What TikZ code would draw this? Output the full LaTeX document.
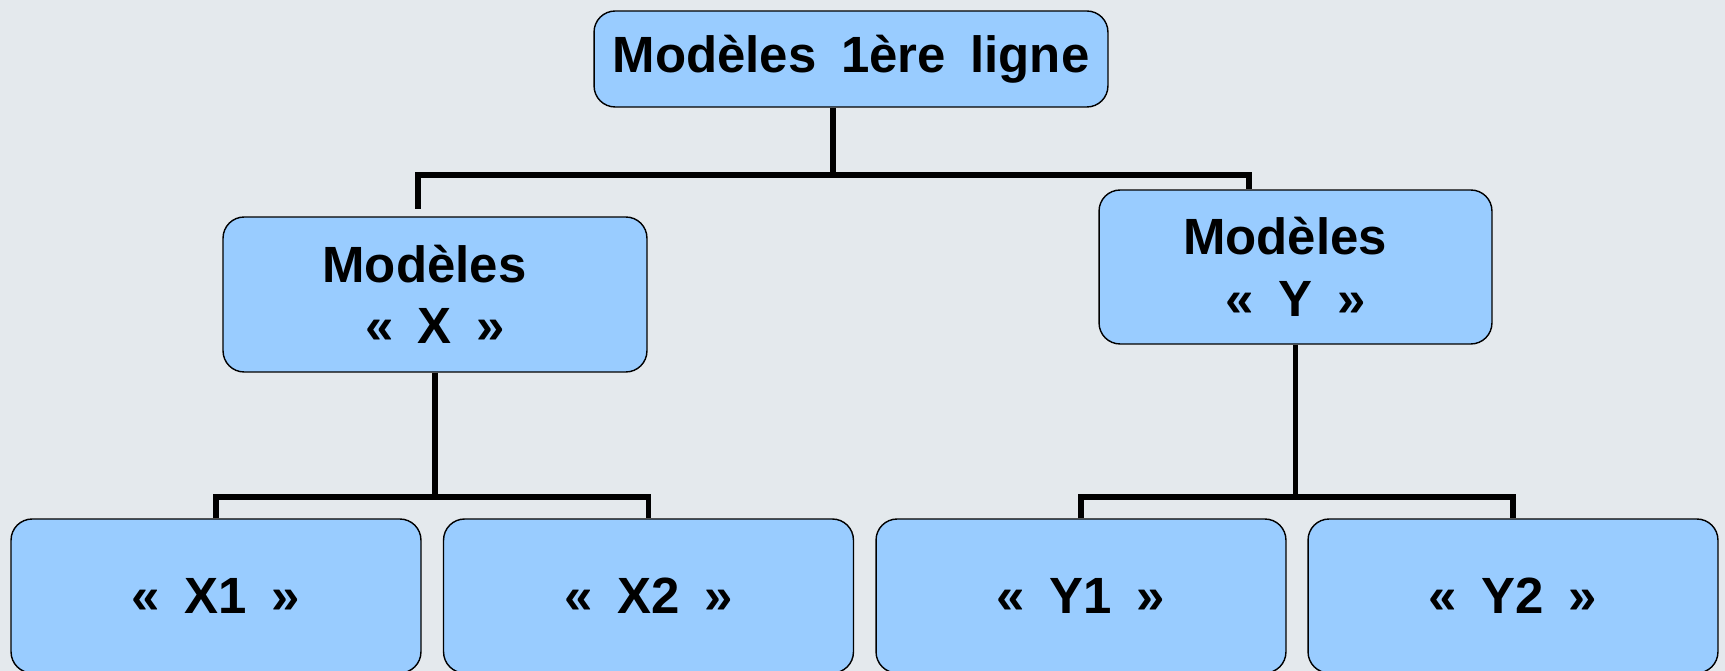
\documentclass[tikz,border=0pt]{standalone}
\usepackage{fontspec}
\setmainfont{Liberation Sans}
\usetikzlibrary{calc,positioning,shapes}
\definecolor{fond}{RGB}{228,233,237}
\definecolor{bleu}{RGB}{153,204,255}
\newcommand\policeboite{\bfseries\fontsize{29}{35}\selectfont\spaceskip 14pt\relax}
\tikzset{
  boite/.style={draw=black, line width=0.8pt, fill=bleu, rounded corners=12pt,
    inner sep=0pt, align=center, font=\policeboite},
  lien/.style={draw=black, line width=3.1pt}
}
\begin{document}
\begin{tikzpicture}[x=0.02cm,y=-0.02cm]
\useasboundingbox[fill=fond] (0,0) rectangle (1725,671);
\node[boite, minimum width=10.28cm, minimum height=1.92cm] (top) at (851,59) {Modèles 1ère ligne};
\node[boite, minimum width=8.48cm, minimum height=3.1cm] (mx) at (435,294.5) {Modèles\hspace*{12pt}\\« X »};
\node[boite, minimum width=7.86cm, minimum height=3.08cm] (my) at (1295.5,267) {Modèles\hspace*{12pt}\\« Y »};
\node[boite, minimum width=8.2cm, minimum height=3.08cm] (mx1) at (216,596) {« X1 »};
\node[boite, minimum width=8.2cm, minimum height=3.08cm] (mx2) at (648.5,596) {« X2 »};
\node[boite, minimum width=8.2cm, minimum height=3.08cm] (my1) at (1081,596) {« Y1 »};
\node[boite, minimum width=8.2cm, minimum height=3.08cm] (my2) at (1513,596) {« Y2 »};
\coordinate (jt) at (833,175);
\coordinate (jtl) at (418,209);
\coordinate (jtr) at (1249,175);
\coordinate (jx) at (435,497);
\coordinate (jy) at (1295.5,497);
\draw[lien] (jt |- top.south) -- (jt);
\draw[lien] (jtl) |- (jtr) -- (jtr |- my.north);
\draw[lien] (mx.south) -- (jx);
\draw[lien] (mx1.north) |- (jx) -| (mx2.north);
\draw[lien] (my.south) -- (jy);
\draw[lien] (my1.north) |- (jy) -| (my2.north);
\end{tikzpicture}
\end{document}
